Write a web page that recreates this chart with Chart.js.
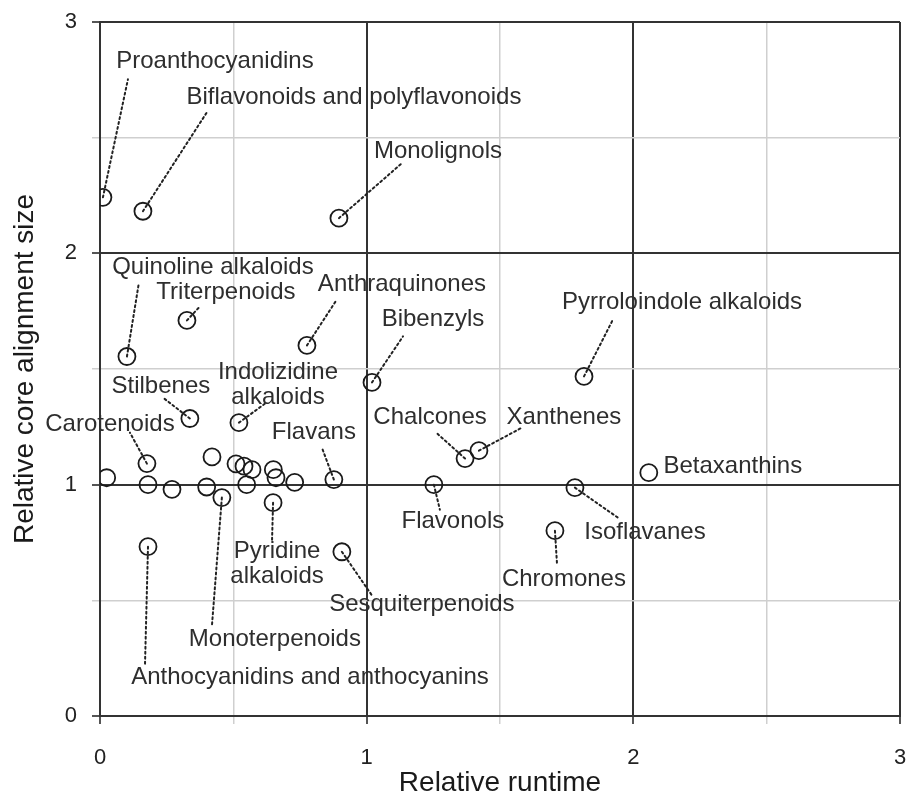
<!DOCTYPE html>
<html>
<head>
<meta charset="utf-8">
<script src="https://cdn.jsdelivr.net/npm/chart.js@4"></script>
<style>
  body { margin: 0; background: #fff; }
  #wrap { width: 907px; height: 795px; position: relative; }
</style>
</head>
<body>
<div id="wrap"><canvas id="scatterChart"></canvas></div>
<script>
// compound classes ('' = unlabeled point)
const classNames = [
    'Proanthocyanidins', 'Biflavonoids and polyflavonoids', 'Monolignols',
    'Quinoline alkaloids', 'Triterpenoids', 'Anthraquinones', 'Bibenzyls',
    'Pyrroloindole alkaloids', 'Stilbenes', 'Indolizidine alkaloids', 'Carotenoids',
    'Chalcones', 'Xanthenes', 'Flavans', 'Flavonols', 'Betaxanthins', 'Isoflavanes',
    'Chromones', 'Pyridine alkaloids', 'Sesquiterpenoids', 'Monoterpenoids',
    'Anthocyanidins and anthocyanins',
    '', '', '', '', '', '', '', '', '', '', '', ''
];
const relativeRuntime = [
    0.011, 0.161, 0.896, 0.101, 0.326, 0.776, 1.020, 1.815, 0.337, 0.521, 0.176,
    1.369, 1.421, 0.877, 1.252, 2.058, 1.781, 1.706, 0.649, 0.907, 0.457, 0.180,
    0.025, 0.180, 0.270, 0.400, 0.420, 0.510, 0.540, 0.570, 0.550, 0.650, 0.660, 0.730
];
const relativeCoreSize = [
    2.242, 2.182, 2.152, 1.554, 1.710, 1.602, 1.442, 1.468, 1.286, 1.268, 1.091,
    1.113, 1.147, 1.022, 1.000, 1.052, 0.987, 0.801, 0.922, 0.710, 0.944, 0.732,
    1.030, 1.000, 0.980, 0.990, 1.120, 1.090, 1.080, 1.065, 1.000, 1.065, 1.030, 1.010
];
const axisTicks = [0, 1, 2, 3];

// label placement: text centre (tx,ty) and leader end (lx,ly), px offsets from the point
const labelPlacement = {
    'Proanthocyanidins': { tx: 112, ty: -136, lx: 25, ly: -118 },
    'Biflavonoids and polyflavonoids': { tx: 211, ty: -114, lx: 64, ly: -99 },
    'Monolignols': { tx: 99, ty: -67, lx: 63, ly: -55 },
    'Quinoline alkaloids': { tx: 86, ty: -89, lx: 12, ly: -74 },
    'Triterpenoids': { tx: 39, ty: -28, lx: 13, ly: -14 },
    'Anthraquinones': { tx: 95, ty: -61, lx: 30, ly: -46 },
    'Bibenzyls': { tx: 61, ty: -63, lx: 31, ly: -46 },
    'Pyrroloindole alkaloids': { tx: 98, ty: -74, lx: 29, ly: -57 },
    'Stilbenes': { tx: -29, ty: -32, lx: -27, ly: -21 },
    'Indolizidine alkaloids': { tx: 39, ty: -38, lx: 26, ly: -19, lines: ['Indolizidine', 'alkaloids'] },
    'Carotenoids': { tx: -37, ty: -39, lx: -17, ly: -31 },
    'Chalcones': { tx: -35, ty: -41, lx: -29, ly: -26 },
    'Xanthenes': { tx: 85, ty: -33, lx: 43, ly: -23 },
    'Flavans': { tx: -20, ty: -47, lx: -12, ly: -32 },
    'Flavonols': { tx: 19, ty: 37, lx: 6, ly: 25 },
    'Betaxanthins': { tx: 84, ty: -6 },
    'Isoflavanes': { tx: 70, ty: 45, lx: 43, ly: 30 },
    'Chromones': { tx: 9, ty: 49, lx: 2, ly: 32 },
    'Pyridine alkaloids': { tx: 4, ty: 61, lx: -1, ly: 37, lines: ['Pyridine', 'alkaloids'] },
    'Sesquiterpenoids': { tx: 80, ty: 53, lx: 31, ly: 45 },
    'Monoterpenoids': { tx: 53, ty: 142, lx: -10, ly: 129 },
    'Anthocyanidins and anthocyanins': { tx: 162, ty: 131, lx: -3, ly: 118 }
};

const points = relativeRuntime.map((x, i) => ({ x: x, y: relativeCoreSize[i] }));
const isMajor = v => Math.abs(v - Math.round(v)) < 1e-6;

const leaderLabels = {
    id: 'leaderLabels',
    afterDatasetsDraw(chart) {
        const ctx = chart.ctx;
        const meta = chart.getDatasetMeta(0);
        ctx.save();
        meta.data.forEach((pt, i) => {
            const place = labelPlacement[classNames[i]];
            if (!place) return;
            if (place.lx !== undefined) {
                ctx.beginPath();
                ctx.setLineDash([2, 3]);
                ctx.lineCap = 'round';
                ctx.lineWidth = 2;
                ctx.strokeStyle = '#222';
                ctx.moveTo(pt.x, pt.y);
                ctx.lineTo(pt.x + place.lx, pt.y + place.ly);
                ctx.stroke();
            }
            ctx.setLineDash([]);
            ctx.font = '24px "Liberation Sans", Arial, sans-serif';
            ctx.fillStyle = '#2e2e2e';
            ctx.textAlign = 'center';
            ctx.textBaseline = 'middle';
            const lines = place.lines || [classNames[i]];
            const lh = 25;
            lines.forEach((t, k) => {
                ctx.fillText(t, pt.x + place.tx, pt.y + place.ty + (k - (lines.length - 1) / 2) * lh);
            });
        });
        ctx.restore();
    }
};

const gridStyle = {
    color: c => isMajor(c.tick.value) ? '#333' : '#cfcfcf',
    lineWidth: c => isMajor(c.tick.value) ? 2 : 1.5,
    tickColor: c => isMajor(c.tick.value) ? '#555' : '#cfcfcf',
    tickLength: 8
};

const ctx = document.getElementById('scatterChart');
const myChart = new Chart(ctx, { //eslint-disable-line
    type: 'scatter',
    data: {
        datasets: [{
            data: points,
            pointStyle: 'circle',
            pointRadius: 8.5,
            pointHoverRadius: 8.5,
            borderWidth: 1.8,
            borderColor: '#1a1a1a',
            backgroundColor: 'rgba(0,0,0,0)'
        }]
    },
    options: {
        responsive: true,
        maintainAspectRatio: false,
        animation: false,
        layout: { autoPadding: false, padding: { top: 22, right: 7, left: 0, bottom: 0 } },
        plugins: { legend: { display: false }, tooltip: { enabled: false } },
        events: [],
        scales: {
            x: {
                type: 'linear', min: 0, max: 3,
                afterFit: s => { s.height = 79; s.paddingLeft = 0; s.paddingRight = 0; },
                ticks: {
                    stepSize: 0.5,
                    callback: v => axisTicks.includes(v) ? String(v) : '',
                    font: { size: 22, family: '"Liberation Sans", Arial, sans-serif' },
                    color: '#222',
                    padding: 21,
                    maxRotation: 0
                },
                grid: gridStyle,
                border: { display: true, color: '#333', width: 2 },
                title: {
                    display: true, text: 'Relative runtime', color: '#1a1a1a',
                    font: { size: 28, family: '"Liberation Sans", Arial, sans-serif', lineHeight: 0.86 },
                    padding: 0
                }
            },
            y: {
                type: 'linear', min: 0, max: 3,
                afterFit: s => { s.width = 100; s.paddingTop = 0; s.paddingBottom = 0; },
                ticks: {
                    stepSize: 0.5,
                    callback: v => axisTicks.includes(v) ? String(v) : '',
                    font: { size: 22, family: '"Liberation Sans", Arial, sans-serif' },
                    color: '#222',
                    padding: 15
                },
                grid: gridStyle,
                border: { display: true, color: '#333', width: 2 },
                title: {
                    display: true, text: 'Relative core alignment size', color: '#1a1a1a',
                    font: { size: 28, family: '"Liberation Sans", Arial, sans-serif', lineHeight: 1 },
                    padding: { top: 11, bottom: 0 }
                }
            }
        }
    },
    plugins: [leaderLabels]
});
</script>
</body>
</html>
